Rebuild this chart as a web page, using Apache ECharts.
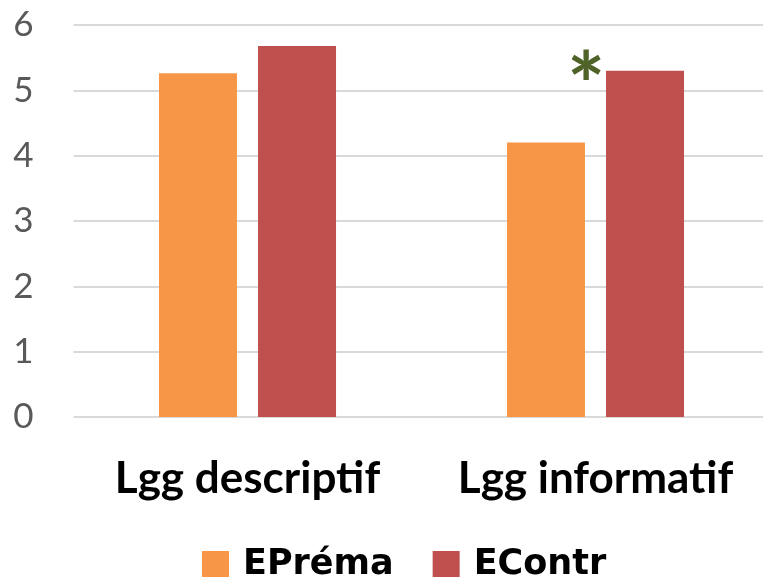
<!DOCTYPE html>
<html>
<head>
<meta charset="utf-8">
<script src="https://cdn.jsdelivr.net/npm/echarts@6/dist/echarts.min.js"></script>
<style>html,body{margin:0;padding:0;background:#fff;}#c{width:763px;height:577px;}</style>
</head>
<body>
<div id="c"></div>
<script>
const categories = ['Lgg descriptif', 'Lgg informatif'];
const seriesNames = ['EPréma', 'EContr'];
const eprema = [5.26, 4.20];
const econtr = [5.68, 5.30];
const significance = ['', '*'];
const yTicks = [0, 1, 2, 3, 4, 5, 6];

const chart = echarts.init(document.getElementById('c'));
chart.setOption({
  animation: false,
  grid: { left: 73.5, width: 696, top: 25, bottom: 160, containLabel: false, outerBoundsMode: 'none' },
  legend: {
    data: seriesNames,
    top: 547,
    left: 202,
    padding: 0,
    icon: 'rect',
    itemWidth: 27,
    itemHeight: 27,
    itemGap: 39,
    textStyle: { fontFamily: 'DejaVu Sans', fontWeight: 'bold', fontSize: 35, lineHeight: 27, color: '#000', padding: [0, 0, 0, 9] }
  },
  xAxis: {
    type: 'category',
    data: categories,
    axisLine: { show: false },
    axisTick: { show: false },
    axisLabel: { interval: 0, fontFamily: 'Lato', fontWeight: 'bold', fontSize: 44, color: '#000', margin: 40 }
  },
  yAxis: {
    type: 'value',
    min: yTicks[0],
    max: yTicks[yTicks.length - 1],
    interval: 1,
    axisLine: { show: false },
    axisTick: { show: false },
    splitLine: { lineStyle: { color: '#d9d9d9', width: 2 } },
    axisLabel: { fontFamily: 'Lato', fontSize: 35, color: '#595959', margin: 40 }
  },
  series: [
    {
      name: seriesNames[0], type: 'bar', data: eprema,
      barWidth: 78, barGap: '27%',
      itemStyle: { color: '#F79646' }
    },
    {
      name: seriesNames[1], type: 'bar',
      data: econtr.map((v, i) => ({
        value: v,
        label: {
          show: significance[i] !== '',
          formatter: significance[i],
          position: [-20, 18],
          align: 'center',
          verticalAlign: 'middle',
          fontFamily: 'Lato',
          fontWeight: 'bold',
          fontSize: 90,
          color: '#4F6228'
        }
      })),
      barWidth: 78,
      itemStyle: { color: '#C0504D' }
    }
  ]
});
</script>
</body>
</html>
